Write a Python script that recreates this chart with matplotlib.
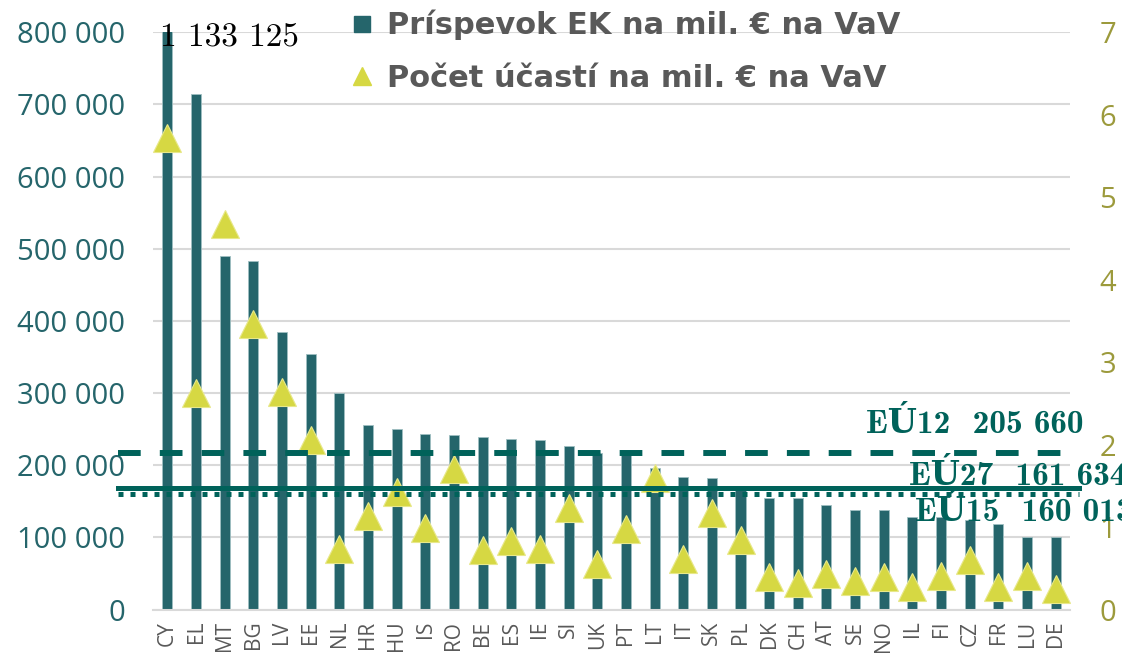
import matplotlib
matplotlib.use("Agg")
from matplotlib import pyplot as plt
from matplotlib.lines import Line2D
from matplotlib.transforms import blended_transform_factory

# data
krajiny = ["CY", "EL", "MT", "BG", "LV", "EE", "NL", "HR", "HU", "IS", "RO", "BE", "ES", "IE",
           "SI", "UK", "PT", "LT", "IT", "SK", "PL", "DK", "CH", "AT", "SE", "NO", "IL", "FI",
           "CZ", "FR", "LU", "DE"]
prispevok = [1133125, 715000, 490700, 482400, 384000, 354000, 300000, 255500, 250300, 243400,
             242400, 239300, 236000, 234700, 226300, 217000, 220000, 196000, 184300, 182400,
             168000, 154600, 154600, 145000, 138000, 138000, 128700, 127900, 124000, 118600,
             100500, 100500]
ucasti = [5.72, 2.63, 4.68, 3.46, 2.64, 2.06, 0.73, 1.14, 1.43, 0.99, 1.70, 0.72, 0.83, 0.74,
          1.23, 0.55, 0.98, 1.59, 0.61, 1.17, 0.84, 0.39, 0.32, 0.43, 0.35, 0.39, 0.28, 0.41,
          0.60, 0.28, 0.41, 0.25]
priemery_nazvy = ["EÚ12  205 660", "EÚ27  161 634", "EÚ15  160 013"]
priemery_poloha = [217600, 168700, 160300]   # where the lines sit in the picture
lavy_ticky = [0, 100000, 200000, 300000, 400000, 500000, 600000, 700000, 800000]
lavy_popisy = ["0", "100 000", "200 000", "300 000", "400 000", "500 000", "600 000", "700 000", "800 000"]
pravy_ticky = [0, 1, 2, 3, 4, 5, 6, 7]

farba_stlpec = "#25656b"
farba_ciara = "#00625a"
farba_troj = "#d6d843"
farba_pravy = "#9c9a3c"
farba_sivy = "#595959"
sans = ["Open Sans", "DejaVu Sans"]
serif_bold = ["cmb10", "DejaVu Serif"]

fig = plt.figure(figsize=(11.22, 6.54), dpi=100)
ax = fig.add_axes([0.1364, 0.0679, 0.8173, 0.8827])
ax2 = ax.twinx()

x = list(range(len(krajiny)))
ax.bar(x, prispevok, width=0.35, color=farba_stlpec, edgecolor="#9fbfc2", linewidth=0.6, zorder=2)
ax.set_ylim(0, 800000)
ax.set_xlim(-0.5, len(krajiny) - 0.5)
ax.set_yticks(lavy_ticky)
ax.set_yticklabels(lavy_popisy, family=sans, fontsize=21, color=farba_stlpec)
ax.set_xticks(x)
ax.set_xticklabels(krajiny, rotation=90, family=sans, fontsize=15, color=farba_sivy)
ax.tick_params(axis="both", length=0)
ax.tick_params(axis="y", pad=20)
ax.tick_params(axis="x", pad=8)
ax.grid(axis="y", color="#d9d9d9", linewidth=1.5, zorder=0)
ax.set_axisbelow(True)
for s in ["top", "left", "right"]:
    ax.spines[s].set_visible(False)
ax.spines["bottom"].set_color("#d9d9d9")
ax.spines["bottom"].set_linewidth(1.5)

ax2.plot(x, ucasti, linestyle="none", marker="^", markersize=20, color=farba_troj,
         markeredgecolor="#e8e88a", markeredgewidth=0.8, zorder=3)
ax2.set_ylim(0, 7)
ax2.set_yticks(pravy_ticky)
ax2.set_yticklabels([str(t) for t in pravy_ticky], family=sans, fontsize=21, color=farba_pravy)
ax2.tick_params(axis="y", length=0, pad=21)
for s in ["top", "left", "right", "bottom"]:
    ax2.spines[s].set_visible(False)

# average lines, drawn above the triangles
tr = blended_transform_factory(ax.transAxes, ax.transData)
ax2.plot([-0.038, 1.0098], [priemery_poloha[2]] * 2, transform=tr, clip_on=False, color=farba_ciara,
         linewidth=3.6, linestyle=(0, (1, 1.4)), solid_capstyle="butt", dash_capstyle="butt", zorder=4)
ax2.plot([-0.038, 1.0098], [priemery_poloha[1]] * 2, transform=tr, clip_on=False, color=farba_ciara,
         linewidth=3.6, zorder=5)
ax2.plot([-0.038, 0.9956], [priemery_poloha[0]] * 2, transform=tr, clip_on=False, color=farba_ciara,
         linewidth=4.3, linestyle=(0, (3.8, 3.2)), dash_capstyle="butt", zorder=5)

ax2.annotate(priemery_nazvy[0], xy=(0.7775, priemery_poloha[0]), xycoords=tr, xytext=(0, 21),
             textcoords="offset points", ha="left", va="center", family=serif_bold, fontsize=24,
             fontweight="bold", color=farba_ciara, annotation_clip=False, zorder=6)
ax2.annotate(priemery_nazvy[1], xy=(0.8244, priemery_poloha[1]), xycoords=tr, xytext=(0, 9),
             textcoords="offset points", ha="left", va="center", family=serif_bold, fontsize=24,
             fontweight="bold", color=farba_ciara, annotation_clip=False, zorder=6)
ax2.annotate(priemery_nazvy[2], xy=(0.831, priemery_poloha[2]), xycoords=tr, xytext=(0, -12),
             textcoords="offset points", ha="left", va="center", family=serif_bold, fontsize=24,
             fontweight="bold", color=farba_ciara, annotation_clip=False, zorder=6)

# value of the clipped CY bar
ax2.annotate(f"{prispevok[0]:,}".replace(",", " "), xy=(x[0], 800000), xycoords=("data", ax.transData),
             xytext=(-5, -4), textcoords="offset points", ha="left", va="center",
             family=["cmr10", "DejaVu Serif"], fontsize=24, color="black", annotation_clip=False, zorder=6)

handles = [Line2D([], [], linestyle="none", marker="s", markersize=11, color=farba_stlpec),
           Line2D([], [], linestyle="none", marker="^", markersize=13, color=farba_troj)]
ax2.legend(handles, ["Príspevok EK na mil. € na VaV", "Počet účastí na mil. € na VaV"],
           loc="upper left", bbox_to_anchor=(350 / 1122, 1 - 10 / 654), bbox_transform=fig.transFigure,
           frameon=False, borderpad=0, borderaxespad=0, handlelength=0.8, handletextpad=0.4,
           labelspacing=0.76, prop={"family": ["DejaVu Sans"], "weight": "bold", "size": 22},
           labelcolor=farba_sivy)

fig.savefig("out.png", dpi=100)
